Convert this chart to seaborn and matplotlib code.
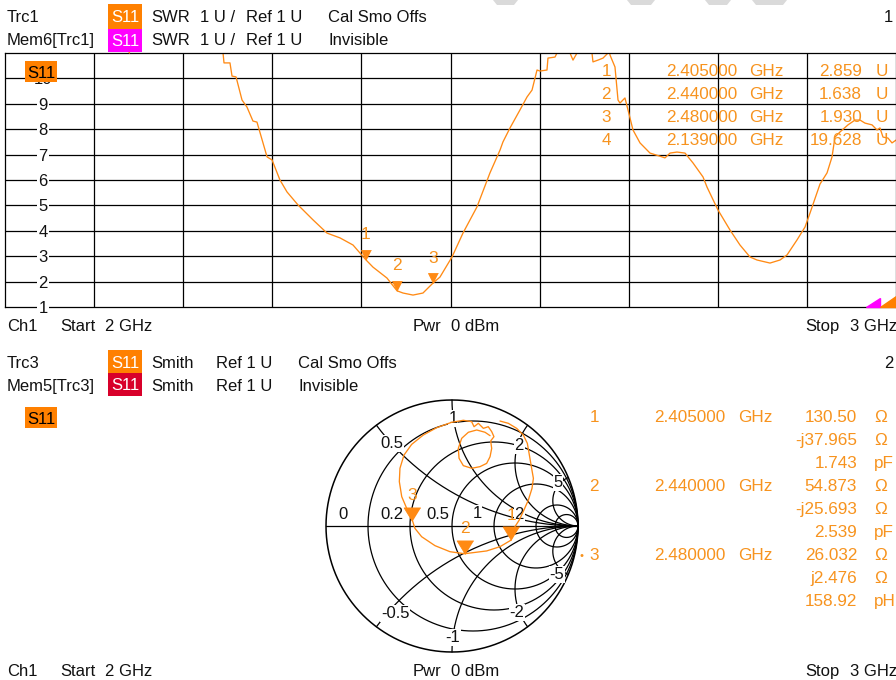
import numpy as np
import pandas as pd
import matplotlib.pyplot as plt
from matplotlib.patches import Rectangle, Polygon
import seaborn as sns

# upper diagram: SWR trace of S11 (frequency in GHz, SWR in U)
freq_ghz = [2.000, 2.040, 2.080, 2.110, 2.139, 2.170, 2.200, 2.225, 2.2447, 2.2458,
            2.2525, 2.2548, 2.2593, 2.2660, 2.2716, 2.2783, 2.2828, 2.2941, 2.2997, 2.3086,
            2.3165, 2.3288, 2.3457, 2.3614, 2.3760, 2.3906, 2.405, 2.4130, 2.4287, 2.440,
            2.4467, 2.4579, 2.4691, 2.480, 2.4882, 2.5017, 2.5140, 2.5297, 2.5443, 2.5556,
            2.5589, 2.5668, 2.5780, 2.5859, 2.5915, 2.5971, 2.6004, 2.6083, 2.6094, 2.6173,
            2.6195, 2.6260, 2.6341, 2.6375, 2.6420, 2.6500, 2.6588, 2.6599, 2.6655, 2.6712,
            2.6768, 2.6780, 2.6790, 2.6846, 2.6880, 2.6902, 2.6958, 2.6992, 2.7048, 2.7127,
            2.7239, 2.7374, 2.7407, 2.7464, 2.7542, 2.7632, 2.7722, 2.7834, 2.7879, 2.8002,
            2.8137, 2.8249, 2.8361, 2.8440, 2.8586, 2.8698, 2.8777, 2.8889, 2.8979, 2.9035,
            2.9147, 2.9226, 2.9282, 2.9315, 2.9371, 2.9461, 2.9540, 2.9596, 2.9652, 2.9731,
            2.9787, 2.9820, 2.9854, 2.9910, 2.9955, 3.000]
swr = [34.0, 30.0, 26.0, 22.5, 19.6, 16.5, 13.8, 12.0, 11.0, 10.61,
       10.61, 10.09, 10.06, 9.15, 8.87, 8.32, 8.28, 6.91, 6.79, 6.00,
       5.53, 5.02, 4.43, 3.91, 3.72, 3.44, 2.859, 2.57, 2.14, 1.638,
       1.55, 1.47, 1.55, 1.930, 2.18, 2.97, 3.91, 4.94, 6.28, 7.18,
       7.50, 8.05, 8.76, 9.27, 9.54, 10.33, 10.29, 10.33, 10.80, 10.84,
       11.0, 11.4, 11.0, 10.72, 11.0, 11.5, 11.0, 10.65, 10.72, 10.80,
       11.0, 11.1, 10.92, 10.45, 9.15, 9.03, 9.23, 8.76, 7.97, 7.46,
       7.06, 6.91, 6.87, 7.06, 7.10, 7.06, 6.67, 6.12, 5.72, 4.82,
       4.03, 3.44, 2.97, 2.85, 2.73, 2.85, 3.05, 3.64, 4.15, 4.70,
       5.84, 6.28, 6.91, 7.69, 7.89, 8.17, 8.36, 8.36, 8.24, 8.17,
       7.97, 8.05, 7.69, 7.65, 7.46, 7.57]

# SWR markers 1..4
mk_freq = [2.405, 2.440, 2.480, 2.139]
mk_swr = [2.859, 1.638, 1.930, 19.628]

# lower diagram: S11 on the Smith chart (reflection coefficient)
gamma_re = [0.381, 0.447, 0.513, 0.566, 0.598, 0.614, 0.632, 0.646, 0.635, 0.606,
            0.571, 0.534, 0.500, 0.469, 0.381, 0.275, 0.100, -0.016, -0.135, -0.241,
            -0.294, -0.314, -0.354, -0.399, -0.418, -0.413, -0.381, -0.320, -0.228, -0.122,
            -0.003, 0.090, 0.156, 0.175, 0.209, 0.249, 0.288, 0.315, 0.333, 0.307,
            0.315, 0.302, 0.275, 0.222, 0.156, 0.090, 0.056, 0.050, 0.077, 0.130,
            0.196, 0.262, 0.302]
gamma_im = [0.833, 0.815, 0.775, 0.722, 0.656, 0.563, 0.458, 0.378, 0.299, 0.206,
            0.127, 0.048, -0.005, -0.112, -0.164, -0.198, -0.220, -0.204, -0.156, -0.085,
            -0.019, 0.043, 0.127, 0.233, 0.352, 0.458, 0.563, 0.648, 0.722, 0.780,
            0.823, 0.839, 0.828, 0.788, 0.815, 0.775, 0.788, 0.749, 0.709, 0.675,
            0.616, 0.550, 0.497, 0.471, 0.458, 0.479, 0.537, 0.616, 0.696, 0.744,
            0.762, 0.744, 0.717]

# Smith markers 1..3 (impedance in ohm, equivalent C / L)
smk_freq = [2.405, 2.440, 2.480]
smk_r = [130.50, 54.873, 26.032]
smk_x = [-37.965, -25.693, 2.476]
smk_lc = [1.743, 2.539, 158.92]
smk_lc_unit = ['pF', 'pF', 'pH']
Z0 = 50.0

ORANGE = '#ff8a14'
TXT_OR = '#f7931e'
INK = '#111111'

sns.set_style('white')
plt.rcParams['font.family'] = ['Liberation Sans', 'DejaVu Sans']
plt.rcParams['font.size'] = 12

W, H = 896, 680
fig = plt.figure(figsize=(W / 100, H / 100), dpi=100)


def put(x, y, s, color=INK, ha='left', size=12):
    # x, y in screen pixels, y = vertical centre of the text row
    fig.text(x / W, 1 - (y + 6) / H, s, color=color, ha=ha, va='baseline', fontsize=size)


def box(x0, y0, x1, y1, color, s, tcolor):
    fig.add_artist(Rectangle((x0 / W, 1 - y1 / H), (x1 - x0) / W, (y1 - y0) / H,
                             transform=fig.transFigure, fc=color, ec='none'))
    put((x0 + x1) / 2, (y0 + y1) / 2, s, color=tcolor, ha='center')


# faint grey stripes along the top edge
for a, b in [(493, 518), (627, 655), (705, 731), (752, 787)]:
    fig.add_artist(Polygon([(a / W, 1), (b / W, 1), ((b - 4) / W, 1 - 5 / H), ((a + 4) / W, 1 - 5 / H)],
                           closed=True, transform=fig.transFigure, fc='#dadada', ec='none'))

# ---------------- upper diagram: SWR ----------------
put(7, 16, 'Trc1')
put(7, 39, 'Mem6[Trc1]')
box(108, 4, 142, 29, '#ff8000', 'S11', 'white')
box(108, 29, 142, 52, '#ff00ff', 'S11', 'white')
for y, last in [(16, 'Cal Smo Offs'), (39, 'Invisible')]:
    put(151, y, 'SWR')
    put(200, y, '1 U /')
    put(246, y, 'Ref 1 U')
    put(328, y, last)
put(893, 16, '1', ha='right')

ax1 = fig.add_axes([5 / W, 1 - 307 / H, 891 / W, 254 / H])
df = pd.DataFrame({'f': freq_ghz, 'swr': swr})
sns.lineplot(data=df, x='f', y='swr', ax=ax1, color=ORANGE, linewidth=0.95,
             estimator=None, sort=False)
ax1.set_xlim(2, 3)
ax1.set_ylim(1, 11)
ax1.set_xticks(np.arange(2.1, 2.95, 0.1))
ax1.set_yticks(range(2, 11))
ax1.grid(True, color='black', lw=0.9)
ax1.tick_params(length=0, labelbottom=False, labelleft=False)
ax1.set_xlabel('')
ax1.set_ylabel('')
for sp in ax1.spines.values():
    sp.set_color('black')
    sp.set_linewidth(0.9)

for v in range(1, 11):
    ax1.text(0.0426, v, str(v), transform=ax1.get_yaxis_transform(), ha='center',
             va='center_baseline', fontsize=12, color=INK, zorder=3, clip_on=False,
             bbox=dict(fc='white', ec='none', pad=1.2))

tri_s = [(0, 0), (-5, 10), (5, 10)]
for i in range(3):
    ax1.plot(mk_freq[i], mk_swr[i], marker=tri_s, ms=14.4, mew=0.6, color=ORANGE,
             ls='none', zorder=4)
    ax1.annotate(str(i + 1), (mk_freq[i], mk_swr[i]), xytext=(0, 19), textcoords='offset points',
                 ha='center', va='center_baseline', color=TXT_OR, fontsize=12.5)
# marker 4 is off scale: drawn on the top edge
ax1.plot(mk_freq[3], min(mk_swr[3], 11), marker=tri_s, ms=14.4, mew=0.6, color=ORANGE,
         ls='none', zorder=4, clip_on=False)

# pointers at the bottom right
ax1.fill([0.9663, 0.982, 0.982], [0, 0, 0.0354], transform=ax1.transAxes, color='#ff00ff',
         clip_on=False, zorder=5)
ax1.fill([0.982, 1.0, 1.0], [0, 0, 0.043], transform=ax1.transAxes, color='#ff8000',
         clip_on=False, zorder=5)

box(25, 61, 57, 82, '#ff8000', 'S11', 'black')

for i, y in enumerate([70, 93, 116, 139]):
    put(606, y, str(i + 1), color=TXT_OR, ha='center', size=12.3)
    put(737, y, f'{mk_freq[i]:.6f}', color=TXT_OR, ha='right', size=12.3)
    put(749, y, 'GHz', color=TXT_OR, size=12.3)
    put(862, y, f'{mk_swr[i]:.3f}', color=TXT_OR, ha='right', size=12.3)
    put(876, y, 'U', color=TXT_OR, size=12.3)

for y in (325, 670):
    put(7, y, 'Ch1')
    put(60, y, 'Start')
    put(105, y, '2 GHz')
    put(413, y, 'Pwr')
    put(451, y, '0 dBm')
    put(805, y, 'Stop')
    put(850, y, '3 GHz')

# ---------------- lower diagram: Smith chart ----------------
put(7, 362, 'Trc3')
put(7, 385, 'Mem5[Trc3]')
box(108, 350, 142, 373, '#ff8000', 'S11', 'white')
box(108, 373, 142, 396, '#d8002a', 'S11', 'white')
for y, last in [(362, 'Cal Smo Offs'), (385, 'Invisible')]:
    put(151, y, 'Smith')
    put(216, y, 'Ref 1 U')
    put(298, y, last)
put(893, 362, '2', ha='right')
box(25, 407, 57, 428, '#ff8000', 'S11', 'black')

ax2 = fig.add_axes([326 / W, 1 - 652 / H, 252 / W, 252 / H])
ax2.set_xlim(-1, 1)
ax2.set_ylim(-1, 1)

t = np.linspace(0, 2 * np.pi, 721)
ax2.plot(np.cos(t), np.sin(t), color='black', lw=1.1, clip_on=False)
ax2.plot([-1, 1], [0, 0], color='black', lw=0.9, clip_on=False)
for r in [0.2, 0.5, 1, 2, 5, 10]:
    c, rad = r / (1 + r), 1 / (1 + r)
    ax2.plot(c + rad * np.cos(t), rad * np.sin(t), color='black', lw=0.9, clip_on=False)
rr = np.concatenate([np.linspace(0, 1, 200), np.logspace(0, 4, 400)])
for x in [0.5, 1, 2, 5, -0.5, -1, -2, -5]:
    g = (rr + 1j * x - 1) / (rr + 1j * x + 1)
    ax2.plot(g.real, g.imag, color='black', lw=0.9, clip_on=False)

grid_labels = [('0', -0.865, 0.103), ('0.2', -0.476, 0.103), ('0.5', -0.111, 0.103),
               ('1', 0.198, 0.111), ('2', 0.532, 0.103),
               ('1', 0.008, 0.865), ('0.5', -0.476, 0.667), ('2', 0.532, 0.651), ('5', 0.841, 0.357),
               ('-1', 0.008, -0.873), ('-0.5', -0.45, -0.68), ('-2', 0.516, -0.675), ('-5', 0.833, -0.373)]
for s, gx, gy in grid_labels:
    ax2.text(gx, gy, s, ha='center', va='center_baseline', fontsize=12, color=INK, zorder=3,
             bbox=dict(fc='white', ec='none', pad=0.6))

sns.lineplot(x=gamma_re, y=gamma_im, ax=ax2, sort=False, estimator=None,
             color=ORANGE, linewidth=0.95, zorder=4)
ax2.axis('off')

tri_b = [(0, 0), (-8, 13), (8, 13)]
for i in range(3):
    z = (smk_r[i] + 1j * smk_x[i]) / Z0
    g = (z - 1) / (z + 1)
    ax2.plot(g.real, g.imag, marker=tri_b, ms=19.5, mew=0.6, color=ORANGE, ls='none', zorder=5)
    ax2.annotate(str(i + 1), (g.real, g.imag), xytext=(0, 19), textcoords='offset points',
                 ha='center', va='center_baseline', color=TXT_OR, fontsize=12.5, zorder=6)


def num(v):
    return f'{v:.2f}' if abs(v) >= 100 else f'{v:.3f}'


for i in range(3):
    y0 = 416 + 69 * i
    put(594, y0, str(i + 1), color=TXT_OR, ha='center', size=12.3)
    put(725, y0, f'{smk_freq[i]:.6f}', color=TXT_OR, ha='right', size=12.3)
    put(738, y0, 'GHz', color=TXT_OR, size=12.3)
    xs = ('j' if smk_x[i] >= 0 else '-j') + num(abs(smk_x[i]))
    for k, (val, unit) in enumerate([(num(smk_r[i]), 'Ω'), (xs, 'Ω'),
                                     (num(smk_lc[i]), smk_lc_unit[i])]):
        put(857, y0 + 23 * k, val, color=TXT_OR, ha='right', size=12.3)
        put(874, y0 + 23 * k, unit, color=TXT_OR, size=12.3)
put(582, 553, '•', color=TXT_OR, ha='center', size=8)

fig.savefig('out.png', dpi=100)
